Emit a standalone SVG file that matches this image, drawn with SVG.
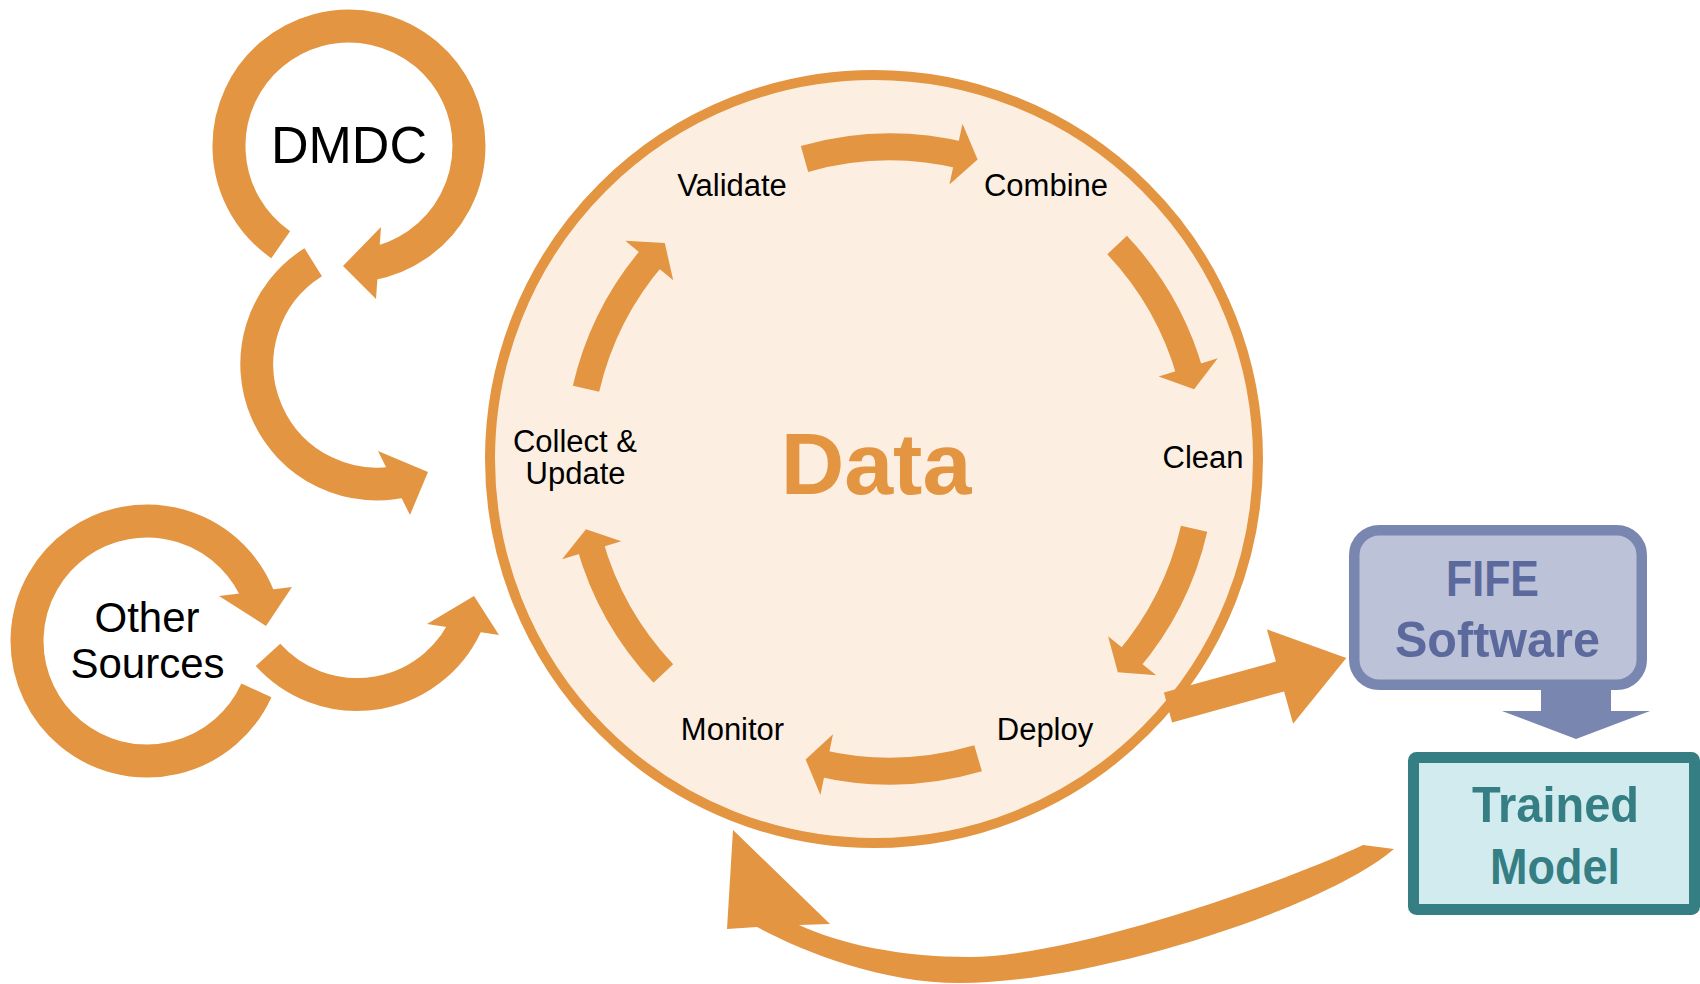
<svg xmlns="http://www.w3.org/2000/svg" width="1700" height="984" viewBox="0 0 1700 984">
  <defs>
    <style>
      .band{fill:none;stroke:#E39541;stroke-width:27;stroke-linecap:butt}
      .loop{fill:none;stroke:#E39541;stroke-width:33;stroke-linecap:butt}
      .fillo{fill:#E39541}
      .lbl{font-family:"Liberation Sans",Arial,sans-serif;font-size:31px;fill:#000;text-anchor:middle}
      .src{font-family:"Liberation Sans",Arial,sans-serif;fill:#000;text-anchor:middle}
      .bold{font-family:"Liberation Sans",Arial,sans-serif;font-weight:bold;text-anchor:middle}
    </style>
  </defs>
  <rect width="1700" height="984" fill="#FFFFFF"/>

  <!-- central data cycle -->
  <g id="node-data">
    <circle cx="874" cy="459" r="384" fill="#FCEFE1" stroke="#E39541" stroke-width="10"/>
    <text class="bold" x="876" y="494" font-size="88" fill="#E39541">Data</text>
  </g>

  <g id="connectors">
    <!-- cycle arrows around the data circle -->
    <g id="edge-validate-combine">
      <path class="band" d="M804.5,158.9 A312,312 0 0 1 963.9,155.9"/>
      <polygon class="fillo" points="962.5,123.8 977.6,159.5 949.4,184.4"/>
    </g>
    <g id="edge-combine-clean">
      <path class="band" d="M1117.1,245 A312,312 0 0 1 1190.5,375.1"/>
      <polygon class="fillo" points="1217.8,358.2 1194.1,389.3 1158.6,376.4"/>
    </g>
    <g id="edge-clean-deploy">
      <path class="band" d="M1194.1,528.7 A312,312 0 0 1 1126.9,662"/>
      <polygon class="fillo" points="1108.1,636.2 1117.8,672.2 1156.2,675.3"/>
    </g>
    <g id="edge-deploy-monitor">
      <path class="band" d="M978.1,758.3 A312,312 0 0 1 818.7,762.8"/>
      <polygon class="fillo" points="833,734.2 805.6,759.4 820.4,794.9"/>
    </g>
    <g id="edge-monitor-collect">
      <path class="band" d="M663.3,673.4 A312,312 0 0 1 589.4,542.4"/>
      <polygon class="fillo" points="621.3,541.2 586,529.2 562,559.3"/>
    </g>
    <g id="edge-collect-validate">
      <path class="band" d="M586,388.8 A312,312 0 0 1 654.5,254.3"/>
      <polygon class="fillo" points="673.2,280.3 664.8,243.1 625.3,240.8"/>
    </g>

    <!-- DMDC loop and feed into data -->
    <g id="edge-dmdc-loop">
      <path class="loop" d="M280.7,244.7 A120,120 0 1 1 369.8,264.2"/>
      <polygon class="fillo" points="381,227 343,266 376,299"/>
    </g>
    <g id="edge-dmdc-data">
      <path class="loop" d="M313.2,262.3 A120,120 0 0 0 408.1,479.9"/>
      <polygon class="fillo" points="378,451 428,472 410,515"/>
    </g>

    <!-- other sources loop and feed into data -->
    <g id="edge-other-loop">
      <path class="loop" d="M256.4,690.4 A120,120 0 1 1 259.8,600"/>
      <polygon class="fillo" points="219,596 266,626 292,587"/>
    </g>
    <g id="edge-other-data">
      <path class="loop" d="M268,654.9 A120,120 0 0 0 468.3,619.5"/>
      <polygon class="fillo" points="427,624 474,596 499,635"/>
    </g>

    <!-- data to FIFE software -->
    <polygon id="edge-data-fife" class="fillo" points="1163.9,692.6 1275.9,661.6 1266.9,629.3 1346.3,658.1 1293.1,723.7 1284.1,691.4 1172.1,722.4"/>

    <!-- FIFE software to trained model -->
    <polygon id="edge-fife-model" fill="#7886B0" points="1541,686 1611,686 1611,711 1650,711 1576,739 1502,711 1541,711"/>

    <!-- trained model back to data -->
    <path id="edge-model-data" class="fillo" d="M1394,849 C1330,905 1100,983 960,983 C880,983 800,950 757,927 L727,929 L733,830 L830,924 L799,925 C840,944 900,957 970,957 C1075,956 1280,884 1363,845 Z"/>
  </g>

  <!-- stage labels -->
  <g id="node-validate"><text class="lbl" x="732" y="196">Validate</text></g>
  <g id="node-combine"><text class="lbl" x="1046" y="196">Combine</text></g>
  <g id="node-clean"><text class="lbl" x="1203" y="468">Clean</text></g>
  <g id="node-deploy"><text class="lbl" x="1045" y="740">Deploy</text></g>
  <g id="node-monitor"><text class="lbl" x="732.5" y="740">Monitor</text></g>
  <g id="node-collect">
    <text class="lbl" x="575" y="452">Collect &amp;</text>
    <text class="lbl" x="575.5" y="484">Update</text>
  </g>

  <!-- sources -->
  <g id="node-dmdc"><text class="src" x="349" y="163" font-size="52">DMDC</text></g>
  <g id="node-other">
    <text class="src" x="147" y="632" font-size="42">Other</text>
    <text class="src" x="147.5" y="678" font-size="42">Sources</text>
  </g>

  <!-- software and model boxes -->
  <g id="node-fife">
    <rect x="1354.25" y="530.25" width="287.5" height="154.5" rx="25" fill="#BCC2D8" stroke="#7886B0" stroke-width="10.5"/>
    <text class="bold" x="1492.5" y="596" font-size="50" fill="#5C699D" textLength="93" lengthAdjust="spacingAndGlyphs">FIFE</text>
    <text class="bold" x="1497.5" y="657" font-size="50" fill="#5C699D" textLength="205" lengthAdjust="spacingAndGlyphs">Software</text>
  </g>
  <g id="node-model">
    <rect x="1413.5" y="757.5" width="281" height="152" rx="3" fill="#D2EBEF" stroke="#357E83" stroke-width="11"/>
    <text class="bold" x="1555.5" y="822" font-size="50" fill="#357E83" textLength="167" lengthAdjust="spacingAndGlyphs">Trained</text>
    <text class="bold" x="1555" y="884" font-size="50" fill="#357E83" textLength="130" lengthAdjust="spacingAndGlyphs">Model</text>
  </g>
</svg>
